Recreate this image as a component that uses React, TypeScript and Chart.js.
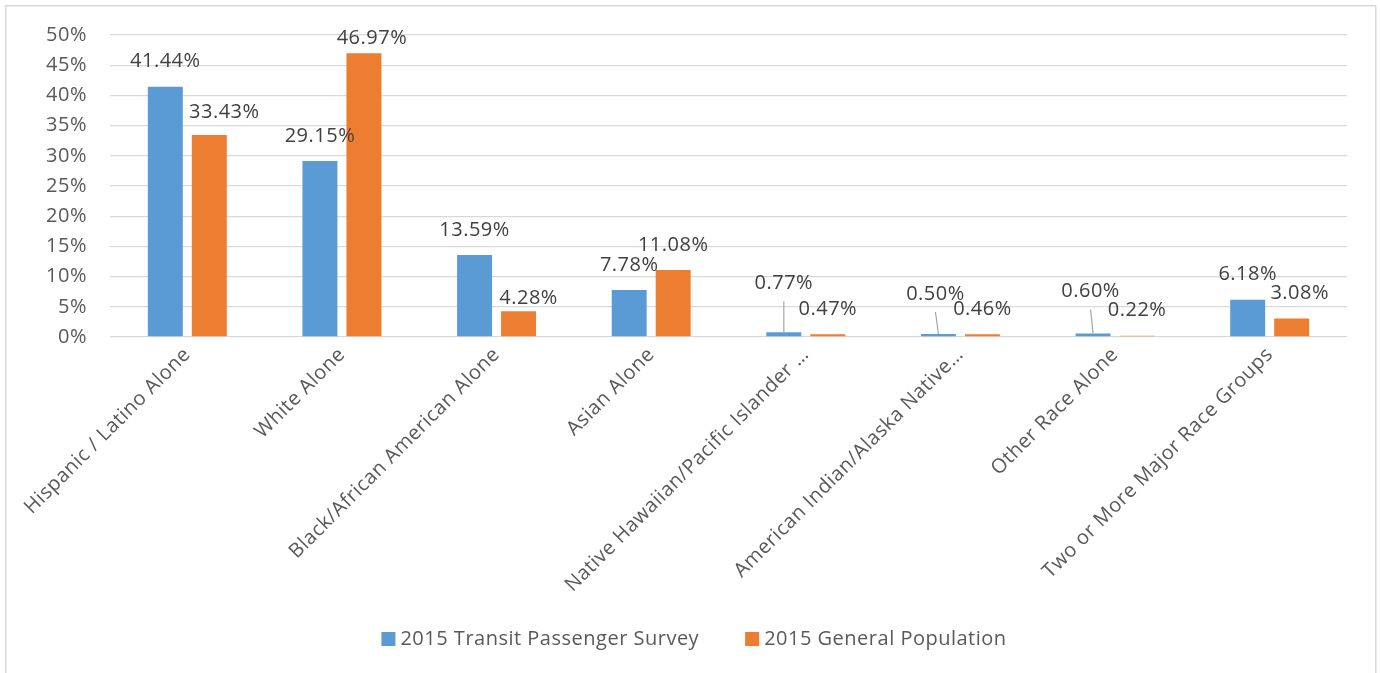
import React, { useEffect, useRef } from "react";
import { Chart, registerables } from "chart.js";

Chart.register(...registerables);

// ---- data ----
const categories = [
  "Hispanic / Latino Alone",
  "White Alone",
  "Black/African American Alone",
  "Asian Alone",
  "Native Hawaiian/Pacific Islander …",
  "American Indian/Alaska Native…",
  "Other Race Alone",
  "Two or More Major Race Groups",
];
const transitSurvey = [41.44, 29.15, 13.59, 7.78, 0.77, 0.5, 0.6, 6.18];
const generalPopulation = [33.43, 46.97, 4.28, 11.08, 0.47, 0.46, 0.22, 3.08];
const seriesNames = ["2015 Transit Passenger Survey", "2015 General Population"];
const yMin = 0;
const yMax = 50;
const yStep = 5;

// label nudges (dx, dy) relative to the default position above each bar
const transitLabelNudge = [[0, 0], [0, 0], [0, 0], [0, 0], [0, -24], [-3, -15], [-2.5, -17], [0, 0]];
const populationLabelNudge = [[15, 2], [8, 10], [10, 12], [0, 0], [0, 0], [0, 0], [0, 0], [8, 0]];

const FONT_FAMILY = "'Open Sans', 'Noto Sans', sans-serif";
const FONT_SIZE = 20;
const LETTER_SPACING = "0.5px";
const COLORS = ["#5B9BD5", "#ED7D31"];

const setSpacing = (chart: any) => {
  try {
    (chart.ctx as any).letterSpacing = LETTER_SPACING;
  } catch (e) {}
};

const spacingPlugin = {
  id: "spacing",
  afterInit: setSpacing,
  beforeUpdate: setSpacing,
  beforeLayout: setSpacing,
  beforeDraw: setSpacing,
};

const backgroundPlugin = {
  id: "bg",
  beforeDraw(chart: any) {
    const ctx = chart.ctx;
    ctx.save();
    ctx.fillStyle = "#ffffff";
    ctx.fillRect(0, 0, chart.width, chart.height);
    ctx.strokeStyle = "#D9D9D9";
    ctx.lineWidth = 1.5;
    ctx.strokeRect(5.75, 5.75, 1370, 720);
    ctx.restore();
  },
};

const labelPlugin = {
  id: "dataLabels",
  afterDatasetsDraw(chart: any) {
    const ctx = chart.ctx;
    const nudges = [transitLabelNudge, populationLabelNudge];
    ctx.save();
    ctx.font = `${FONT_SIZE}px ${FONT_FAMILY}`;
    ctx.textAlign = "center";
    ctx.textBaseline = "middle";
    chart.data.datasets.forEach((ds: any, di: number) => {
      const meta = chart.getDatasetMeta(di);
      meta.data.forEach((bar: any, i: number) => {
        const v = ds.data[i] as number;
        const [dx, dy] = nudges[di][i];
        const lx = bar.x + dx;
        const ly = bar.y - 25 + dy;
        if (dy < -10) {
          ctx.strokeStyle = "#A6A6A6";
          ctx.lineWidth = 1.2;
          ctx.beginPath();
          ctx.moveTo(lx, ly + 18);
          ctx.lineTo(bar.x, bar.y);
          ctx.stroke();
        }
        ctx.fillStyle = "#404040";
        ctx.fillText(v.toFixed(2) + "%", lx, ly);
      });
    });
    ctx.restore();
  },
};

const legendPlugin = {
  id: "customLegend",
  afterDraw(chart: any) {
    const ctx = chart.ctx;
    ctx.save();
    ctx.font = `${FONT_SIZE}px ${FONT_FAMILY}`;
    ctx.textBaseline = "middle";
    ctx.textAlign = "left";
    const box = 14;
    const gap = 5;
    const itemGap = 46;
    const items = chart.data.datasets.map((ds: any) => ({
      label: ds.label as string,
      color: ds.backgroundColor as string,
      w: ctx.measureText(ds.label).width,
    }));
    const total =
      items.reduce((s: number, it: any) => s + box + gap + it.w, 0) + itemGap * (items.length - 1);
    let x = 694 - total / 2;
    const y = 639;
    items.forEach((it: any) => {
      ctx.fillStyle = it.color;
      ctx.fillRect(x, y - box / 2, box, box);
      ctx.fillStyle = "#595959";
      ctx.fillText(it.label, x + box + gap, y);
      x += box + gap + it.w + itemGap;
    });
    ctx.restore();
  },
};

export default function App() {
  const ref = useRef<HTMLCanvasElement>(null);

  useEffect(() => {
    document.body.style.margin = "0";
    const canvas = ref.current;
    if (!canvas) return;
    const font = { family: FONT_FAMILY, size: FONT_SIZE };
    const chart = new Chart(canvas, {
      type: "bar",
      data: {
        labels: categories,
        datasets: [
          {
            label: seriesNames[0],
            data: transitSurvey,
            backgroundColor: COLORS[0],
            categoryPercentage: 0.569,
            barPercentage: 0.795,
          },
          {
            label: seriesNames[1],
            data: generalPopulation,
            backgroundColor: COLORS[1],
            categoryPercentage: 0.569,
            barPercentage: 0.795,
          },
        ],
      },
      options: {
        responsive: false,
        animation: false,
        devicePixelRatio: 1,
        layout: { padding: { top: 34, right: 33, left: 0, bottom: 0 } },
        plugins: {
          legend: { display: false },
          tooltip: { enabled: false },
        },
        scales: {
          x: {
            grid: { display: false, drawTicks: false },
            border: { display: false },
            ticks: {
              autoSkip: false,
              minRotation: 45,
              maxRotation: 45,
              color: "#595959",
              font,
              padding: 6,
            },
            afterFit: (s: any) => {
              s.height = 336;
            },
          },
          y: {
            min: yMin,
            max: yMax,
            ticks: {
              stepSize: yStep,
              callback: (v: any) => v + "%",
              padding: 23,
              color: "#595959",
              font,
            },
            grid: { color: "#D9D9D9", lineWidth: 1.3, drawTicks: false },
            border: { display: false },
            afterFit: (s: any) => {
              s.width = 110;
            },
          },
        },
      } as any,
      plugins: [spacingPlugin, backgroundPlugin, labelPlugin, legendPlugin],
    });
    return () => chart.destroy();
  }, []);

  return <canvas ref={ref} width={1380} height={673} style={{ display: "block" }} />;
}
